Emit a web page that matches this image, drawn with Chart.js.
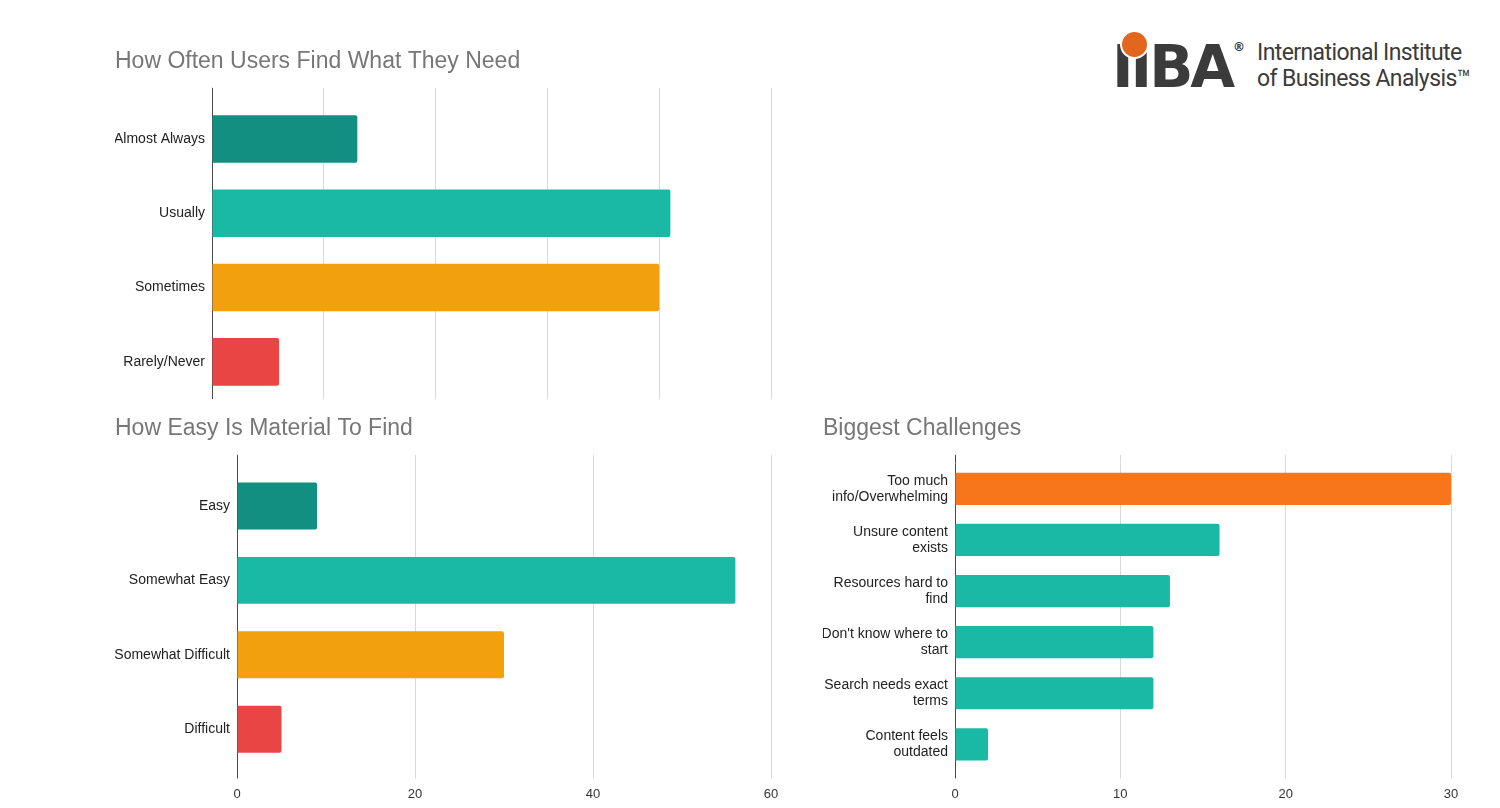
<!DOCTYPE html>
<html>
<head>
<meta charset="utf-8">
<script src="https://cdn.jsdelivr.net/npm/chart.js@4"></script>
<style>
  body { margin: 0; background: #fff; width: 1500px; height: 808px; overflow: hidden; position: relative; }
  .box { position: absolute; }
  #logo { position: absolute; left: 1112px; top: 22px; width: 370px; height: 80px; }
  #logo .mark { position: absolute; left: 0; top: 16px; font: bold 58px "DejaVu Sans", sans-serif; letter-spacing: -3px; color: #3b3b3b; line-height: 1; }
  #logo .dot { position: absolute; left: 10px; top: 10px; width: 25px; height: 25px; border-radius: 50%; background: #e2661e; box-shadow: 0 0 0 2px #fff; }
  #logo .reg { position: absolute; left: 121px; top: 18px; font: bold 12px "DejaVu Sans", sans-serif; color: #3b3b3b; }
  #logo .name { position: absolute; left: 145px; top: 18px; font: 23px Roboto, sans-serif; color: #3b3b3b; line-height: 26px; letter-spacing: -0.6px; }
</style>
</head>
<body>
<div id="logo">
  <div class="mark">IIBA</div>
  <div class="dot"></div>
  <div class="reg">®</div>
  <div class="name">International Institute<br>of Business Analysis™</div>
</div>
<div class="box" style="left:115px;top:46px;width:668px;height:353px"><canvas id="often"></canvas></div>
<div class="box" style="left:115px;top:413px;width:668px;height:397px"><canvas id="easy"></canvas></div>
<div class="box" style="left:823px;top:413px;width:640px;height:397px"><canvas id="challenges"></canvas></div>
<script>
// data
var oftenLabels = ['Almost Always', 'Usually', 'Sometimes', 'Rarely/Never']
var oftenValues = [13, 41, 40, 6]
var oftenMax = 50

var easyLabels = ['Easy', 'Somewhat Easy', 'Somewhat Difficult', 'Difficult']
var easyValues = [9, 56, 30, 5]
var easyTicks = [0, 20, 40, 60]

var challengeLabels = [['Too much', 'info/Overwhelming'], ['Unsure content', 'exists'], ['Resources hard to', 'find'], ["Don't know where to", 'start'], ['Search needs exact', 'terms'], ['Content feels', 'outdated']]
var challengeValues = [30, 16, 13, 12, 12, 2]
var challengeTicks = [0, 10, 20, 30]

var darkTeal = '#138f81'
var teal = '#19b9a6'
var amber = '#f3a00f'
var red = '#ea4545'
var orange = '#f7761b'

Chart.defaults.font.family = '"Liberation Sans", Arial, sans-serif'
Chart.defaults.font.size = 13
Chart.defaults.color = '#222'
Chart.defaults.animation = false

function gridColor(c){
    return c.tick && c.tick.value === 0 ? '#4a4a4a' : '#d9d9d9'
}

// one horizontal bar chart
function barChart(id, title, labels, values, colors, opts){
    return new Chart(document.getElementById(id), {
        type: 'bar',
        data: {
            labels: labels,
            datasets: [{
                data: values,
                backgroundColor: colors,
                borderRadius: 2,
                borderSkipped: 'start',
                categoryPercentage: 1,
                barPercentage: opts.bar
            }]
        },
        options: {
            indexAxis: 'y',
            responsive: true,
            maintainAspectRatio: false,
            layout: { padding: { right: 12 } },
            plugins: {
                legend: { display: false },
                tooltip: { enabled: false },
                title: {
                    display: true,
                    text: title,
                    align: 'start',
                    color: '#777',
                    font: { family: '"Liberation Sans", Arial, sans-serif', size: 23, weight: 'normal' },
                    padding: { top: 2, bottom: 12.2 }
                }
            },
            scales: {
                y: {
                    border: { display: false },
                    grid: { display: false, drawTicks: false },
                    ticks: { padding: 7, font: { size: 14, lineHeight: 1.15 } },
                    afterFit: function(s){ s.width = opts.yWidth; s.paddingTop = 0; s.paddingBottom = 0 }
                },
                x: {
                    type: 'linear',
                    min: 0,
                    max: opts.max,
                    border: { display: false },
                    grid: { color: gridColor, tickLength: opts.tickBottom, drawTicks: opts.showTicks },
                    ticks: {
                        display: opts.showTicks,
                        stepSize: opts.step,
                        padding: 8,
                        color: '#333'
                    },
                    afterFit: function(s){ s.paddingLeft = 0; s.paddingRight = 0 }
                },
                x2: {
                    axis: 'x',
                    type: 'linear',
                    position: 'top',
                    min: 0,
                    max: opts.max,
                    border: { display: false },
                    grid: { color: gridColor, tickLength: opts.tickTop, drawOnChartArea: false },
                    ticks: { display: false, stepSize: opts.step }
                }
            }
        }
    })
}

barChart('often', 'How Often Users Find What They Need', oftenLabels, oftenValues,
    [darkTeal, teal, amber, red],
    { bar: 0.64, yWidth: 97, max: oftenMax, step: 10, tickTop: 14, tickBottom: 0, showTicks: false })

barChart('easy', 'How Easy Is Material To Find', easyLabels, easyValues,
    [darkTeal, teal, amber, red],
    { bar: 0.63, yWidth: 122, max: easyTicks[easyTicks.length - 1], step: easyTicks[1] - easyTicks[0], tickTop: 14, tickBottom: 12, showTicks: true })

barChart('challenges', 'Biggest Challenges', challengeLabels, challengeValues,
    [orange, teal, teal, teal, teal, teal],
    { bar: 0.63, yWidth: 132, max: challengeTicks[challengeTicks.length - 1], step: challengeTicks[1] - challengeTicks[0], tickTop: 8.5, tickBottom: 8.5, showTicks: true })
</script>
</body>
</html>
